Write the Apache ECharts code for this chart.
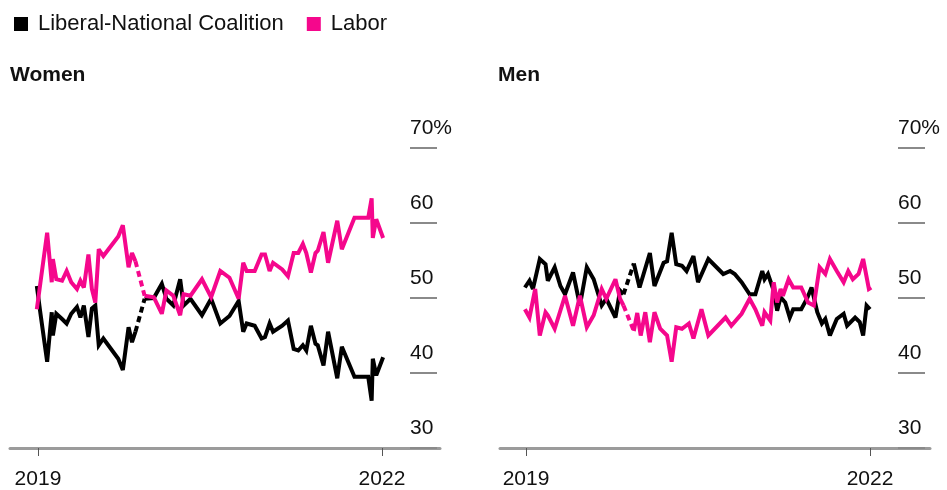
<!DOCTYPE html>
<html><head><meta charset="utf-8">
<script src="https://cdn.jsdelivr.net/npm/echarts@6/dist/echarts.min.js"></script>
<style>html,body{margin:0;padding:0;background:#fff}#c{width:947px;height:490px}</style>
</head><body><div id="c"></div>
<script>
// ---- data (decimal years, two-party preferred %) ; null = gap in polling (bridged with a dashed line)
var yearTicks = [2019, 2022];
var seriesNames = ['Liberal-National Coalition', 'Labor'];
var panelTitles = ['Women', 'Men'];

var womenDates = [2018.99,2019.02,2019.08,2019.12,2019.13,2019.16,2019.21,2019.25,2019.29,2019.34,2019.37,2019.40,2019.44,2019.47,2019.50,2019.53,2019.57,2019.70,2019.74,2019.79,2019.82,2019.85,2019.89,2019.93,2020.01,2020.08,2020.12,2020.18,2020.24,2020.27,2020.33,2020.43,2020.51,2020.59,2020.67,2020.75,2020.79,2020.82,2020.89,2020.95,2020.98,2021.02,2021.05,2021.13,2021.18,2021.23,2021.27,2021.31,2021.34,2021.38,2021.42,2021.44,2021.49,2021.53,2021.61,2021.65,2021.76,2021.88,2021.91,2021.92,2021.95,2022.01];
var womenLabor = [48.5,51.9,58.7,52.1,55.2,52.5,52.3,53.6,52.1,51.2,52.3,51.4,55.8,51.2,49.4,56.5,55.6,58.2,59.7,54.1,56.0,54.9,null,50.3,50.1,47.9,51.0,50.3,47.7,50.5,50.3,52.5,50.1,53.6,52.7,49.9,54.7,53.6,53.6,55.8,55.8,53.6,54.7,53.8,52.9,56.0,56.0,57.2,56.0,53.4,56.0,56.3,58.8,54.7,60.3,56.5,60.7,60.7,63.3,58.0,60.5,58.0];
var womenCoalition = [51.6,48.1,41.5,48.1,45.0,47.9,47.2,46.6,47.9,48.8,47.4,49.0,44.8,48.6,49.0,43.7,44.6,41.9,40.4,46.1,44.1,45.5,null,49.9,50.0,51.9,49.9,49.0,52.5,49.0,49.9,47.7,49.9,46.6,47.6,49.6,45.5,46.6,46.3,44.6,44.8,46.6,45.5,46.3,47.0,43.2,43.0,43.7,43.0,46.3,43.9,43.7,41.0,45.5,39.3,43.5,39.5,39.5,36.3,41.9,39.7,42.1];

var menCoalitionDates = [2018.99,2019.03,2019.06,2019.12,2019.17,2019.19,2019.25,2019.30,2019.34,2019.41,2019.47,2019.53,2019.59,2019.66,2019.70,2019.78,2019.82,2019.85,2019.89,2019.94,2019.99,2020.08,2020.12,2020.20,2020.23,2020.27,2020.31,2020.36,2020.40,2020.46,2020.50,2020.59,2020.72,2020.78,2020.82,2020.88,2020.95,2021.00,2021.06,2021.08,2021.11,2021.16,2021.19,2021.22,2021.26,2021.30,2021.33,2021.40,2021.45,2021.49,2021.54,2021.58,2021.61,2021.65,2021.71,2021.77,2021.80,2021.87,2021.91,2021.94,2021.97,2022.00];
var menCoalition = [51.4,52.3,51.2,55.2,54.5,52.3,54.1,51.6,50.5,53.4,49.0,54.1,52.5,49.0,49.9,47.4,51.0,50.5,null,54.6,51.4,56.0,51.6,54.7,54.9,58.7,54.5,54.3,53.6,55.6,52.1,55.2,53.2,53.6,53.2,52.1,50.5,50.5,53.6,52.5,53.2,51.0,48.3,50.1,49.4,47.4,48.5,48.5,49.9,51.4,48.1,46.6,47.2,45.0,47.2,47.9,46.3,47.4,46.8,45.0,49.0,48.5];

var menLaborDates = [2018.99,2019.03,2019.08,2019.12,2019.17,2019.19,2019.25,2019.34,2019.41,2019.47,2019.53,2019.59,2019.66,2019.70,2019.78,2019.82,2019.85,2019.89,2019.94,2019.97,2020.00,2020.04,2020.08,2020.12,2020.17,2020.23,2020.27,2020.31,2020.36,2020.42,2020.46,2020.53,2020.59,2020.74,2020.79,2020.88,2020.95,2021.00,2021.06,2021.08,2021.13,2021.16,2021.19,2021.22,2021.24,2021.29,2021.33,2021.40,2021.46,2021.51,2021.56,2021.61,2021.65,2021.71,2021.77,2021.81,2021.85,2021.90,2021.94,2021.99,2022.01];
var menLabor = [48.5,47.4,51.2,45.0,48.1,47.7,45.9,50.3,46.3,50.3,46.1,47.7,51.2,49.9,52.5,49.9,49.0,null,45.6,48.0,45.0,48.1,44.1,48.1,45.9,45.0,41.5,46.1,45.9,46.6,44.6,48.5,45.0,47.4,46.3,47.9,49.9,48.5,46.3,48.1,47.0,52.1,49.4,51.2,50.3,52.5,51.4,51.4,49.4,49.0,54.1,53.2,55.2,53.6,52.1,53.6,52.5,53.2,55.2,51.2,51.4];

// ---- build
var FONT = "'Liberation Sans', Arial, sans-serif";
var TXT = '#111111';
var BLACK = '#000000', PINK = '#f5078c';

function pairs(d, v) { return d.map(function (x, i) { return [x, v[i]]; }); }
function bridges(d, v) {
  var out = [];
  for (var i = 0; i < v.length; i++) {
    if (v[i] == null && i > 0 && i < v.length - 1) {
      if (out.length) out.push([d[i], null]);
      out.push([d[i - 1], v[i - 1]], [d[i + 1], v[i + 1]]);
    }
  }
  return out;
}
function lineSeries(name, color, g, data, dashed) {
  return {
    name: name, type: 'line', xAxisIndex: g, yAxisIndex: g, data: data,
    showSymbol: false, symbol: 'none', connectNulls: false, animation: false,
    color: color, itemStyle: { color: color },
    lineStyle: { color: color, width: 4, type: dashed ? [6, 4] : 'solid', join: 'miter', miterLimit: 3 },
    emphasis: { disabled: true }, silent: true, z: color === PINK ? 3 : 2
  };
}
function xAxis(g, min, max) {
  return {
    gridIndex: g, type: 'value', min: min, max: max,
    axisLine: { show: true, onZero: false, lineStyle: { color: '#9b9b9b', width: 3 } },
    axisTick: { show: true, customValues: yearTicks, length: 8, lineStyle: { color: '#555', width: 1 } },
    axisLabel: { customValues: yearTicks, formatter: function (v) { return String(Math.round(v)); },
      fontSize: 21, fontFamily: FONT, color: TXT, margin: 21 },
    splitLine: { show: false }
  };
}
function yAxis(g, off) {
  return {
    gridIndex: g, type: 'value', min: 30, max: 70, interval: 10, position: 'right', offset: off,
    axisLine: { show: false },
    axisTick: { show: true, inside: true, length: 27, lineStyle: { color: '#8a8a8a', width: 2 } },
    axisLabel: { show: true, inside: true, align: 'left', margin: 27, verticalAlign: 'bottom',
      lineHeight: 21, padding: [0, 0, 9, 0], fontSize: 21, fontFamily: FONT, color: TXT,
      formatter: function (v) { return v === 70 ? '70%' : String(v); } },
    splitLine: { show: false }
  };
}

var option = {
  backgroundColor: '#fff',
  animation: false,
  textStyle: { fontFamily: FONT },
  title: [
    { text: panelTitles[0], left: 10, top: 65, padding: 0, textStyle: { fontSize: 21, fontWeight: 'bold', color: TXT, fontFamily: FONT } },
    { text: panelTitles[1], left: 498, top: 65, padding: 0, textStyle: { fontSize: 21, fontWeight: 'bold', color: TXT, fontFamily: FONT } }
  ],
  legend: {
    data: seriesNames, left: 14, top: 13, padding: 0, icon: 'rect', itemWidth: 14, itemHeight: 14, itemGap: 23,
    selectedMode: false,
    itemStyle: { borderWidth: 0 },
    textStyle: { fontSize: 22, color: TXT, fontFamily: FONT, padding: [0, 0, 0, 5] }
  },
  grid: [
    { left: 10, width: 430, top: 148, height: 302, containLabel: false },
    { left: 500, width: 430, top: 148, height: 302, containLabel: false }
  ],
  xAxis: [xAxis(0, 2018.756, 2022.506), xAxis(1, 2018.773, 2022.523)],
  yAxis: [yAxis(0, -3), yAxis(1, -5)],
  series: [
    lineSeries(seriesNames[0], BLACK, 0, pairs(womenDates, womenCoalition), false),
    lineSeries(seriesNames[0], BLACK, 0, bridges(womenDates, womenCoalition), true),
    lineSeries(seriesNames[1], PINK, 0, pairs(womenDates, womenLabor), false),
    lineSeries(seriesNames[1], PINK, 0, bridges(womenDates, womenLabor), true),
    lineSeries(seriesNames[0], BLACK, 1, pairs(menCoalitionDates, menCoalition), false),
    lineSeries(seriesNames[0], BLACK, 1, bridges(menCoalitionDates, menCoalition), true),
    lineSeries(seriesNames[1], PINK, 1, pairs(menLaborDates, menLabor), false),
    lineSeries(seriesNames[1], PINK, 1, bridges(menLaborDates, menLabor), true)
  ]
};
var chart = echarts.init(document.getElementById('c'), null, { renderer: 'canvas' });
chart.setOption(option);
</script>
</body></html>
